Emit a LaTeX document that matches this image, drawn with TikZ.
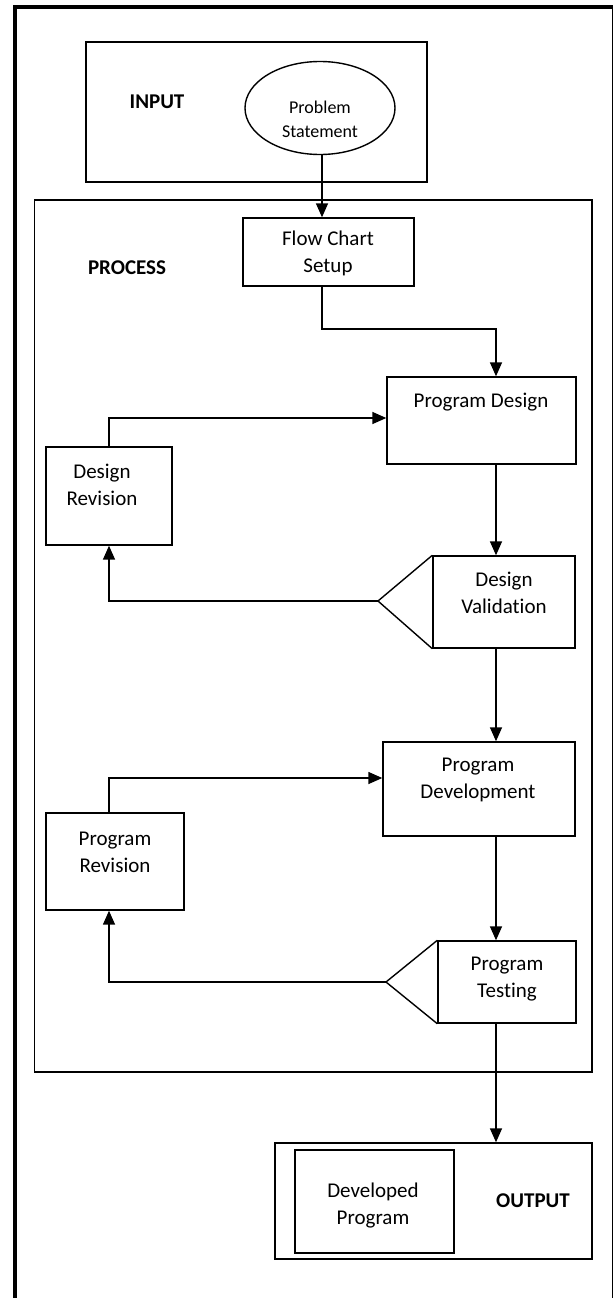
\documentclass[tikz,border=0pt]{standalone}
\usepackage{fontspec}
\setmainfont{Carlito}[Ligatures=NoCommon]
\usepackage{tikz}
\usetikzlibrary{arrows.meta,shapes.geometric}

\begin{document}
\begin{tikzpicture}[x=1pt, y=-1pt,
    box/.style={draw, line width=1.4pt, inner sep=0pt},
    txt/.style={align=center, font=\fontsize{21}{27}\selectfont},
    head/.style={font=\fontsize{21}{27}\selectfont\bfseries},
    arr/.style={line width=1.5pt, -{Triangle[length=14pt,width=12pt]}}]
  \useasboundingbox (0,0) rectangle (614,1298);

  % Draw the page frame
  \draw[line width=4pt] (15,1298) -- (15,7);
  \draw[line width=3.5pt] (13,7) -- (613,7);
  \draw[line width=1.2pt] (612.5,7) -- (612.5,1298);

  % Input part
  \node[box, minimum width=341, minimum height=140] (inbox) at (256.5,112) {};
  \node[head] (intitle) at (157,102) {INPUT};
  \node[box, ellipse, minimum width=150, minimum height=93] (problem) at (320,108) {};
  \node[txt, font=\fontsize{18}{24}\selectfont] (problemtxt) at (320,119) {Problem\\Statement};

  % Process part
  \node[box, minimum width=557.5, minimum height=872] (procbox) at (313.25,636) {};
  \node[head] (proctitle) at (127,268) {PROCESS};

  \node[box, minimum width=171, minimum height=68] (flow) at (328.5,252) {};
  \node[txt] (flowtxt) at (328,253) {Flow Chart\\Setup};

  \node[box, minimum width=189, minimum height=87] (design) at (481.5,420.5) {};
  \node[txt] (designtxt) at (481,402) {Program Design};

  \node[box, minimum width=126, minimum height=98] (drev) at (109,496) {};
  \node[txt] (drevtxt) at (102,485) {Design\\Revision};

  \node[box, minimum width=142, minimum height=92] (dval) at (504,602) {};
  \node[txt] (dvaltxt) at (504,593) {Design\\Validation};
  \coordinate (dvtip) at (378,601);

  \node[box, minimum width=192, minimum height=94] (develop) at (479,789) {};
  \node[txt] (developtxt) at (478,780) {Program\\Development};

  \node[box, minimum width=138, minimum height=97] (prev) at (115,861.5) {};
  \node[txt] (prevtxt) at (115,852) {Program\\Revision};

  \node[box, minimum width=138, minimum height=82] (ptest) at (507,982) {};
  \node[txt] (ptesttxt) at (507,979) {Program\\Testing};
  \coordinate (pttip) at (386,982);

  % Output part
  \node[box, minimum width=317, minimum height=116] (outbox) at (433.5,1201) {};
  \node[box, line width=2pt, minimum width=159, minimum height=103] (devprog) at (374.5,1201.5) {};
  \node[txt] (devprogtxt) at (373,1205) {Developed\\Program};
  \node[head] (outtitle) at (533,1201) {OUTPUT};

  % Decision triangles
  \draw[line width=1.4pt] (dval.north west) -- (dvtip) -- (dval.south west);
  \draw[line width=1.4pt] (ptest.north west) -- (pttip) -- (ptest.south west);

  % Connectors
  \coordinate (spine) at (496,329);
  \draw[arr] (problem.south -| 322,0) -- (flow.north -| 322,0);
  \draw[arr] (flow.south -| 322,0) |- (spine) -- (spine |- design.north);
  \draw[arr] (spine |- design.south) -- (spine |- dval.north);
  \draw[arr] (spine |- dval.south) -- (spine |- develop.north);
  \draw[arr] (spine |- develop.south) -- (spine |- ptest.north);
  \draw[arr] (spine |- ptest.south) -- (spine |- outbox.north);

  \draw[arr] (drev.north) |- ([yshift=2.5pt]design.west);
  \draw[arr] (dvtip) -| (drev.south);
  \draw[arr] (prev.north -| drev.south) |- ([yshift=11pt]develop.west);
  \draw[arr] (pttip) -| (prev.south -| drev.south);

\end{tikzpicture}
\end{document}
